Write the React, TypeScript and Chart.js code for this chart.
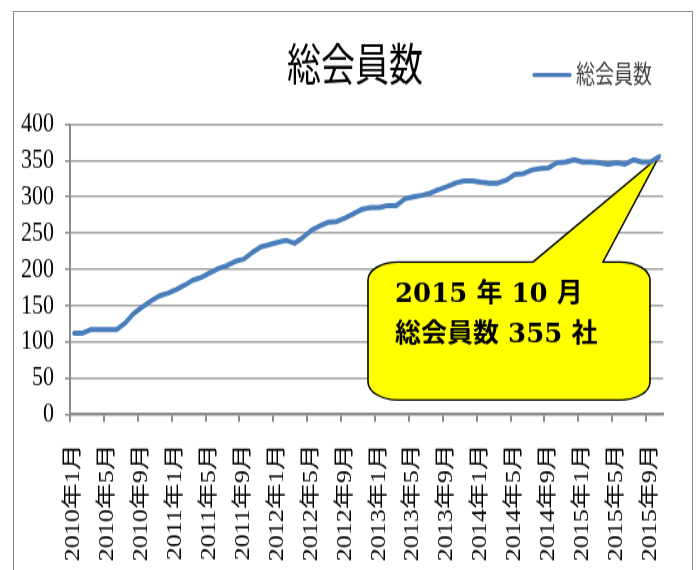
import React, { useEffect, useRef } from "react";
import { Chart, registerables } from "chart.js";

Chart.register(...registerables);

// ---------------- data ----------------
const categories = [
  "2010年1月", "2010年2月", "2010年3月", "2010年4月", "2010年5月", "2010年6月",
  "2010年7月", "2010年8月", "2010年9月", "2010年10月", "2010年11月", "2010年12月",
  "2011年1月", "2011年2月", "2011年3月", "2011年4月", "2011年5月", "2011年6月",
  "2011年7月", "2011年8月", "2011年9月", "2011年10月", "2011年11月", "2011年12月",
  "2012年1月", "2012年2月", "2012年3月", "2012年4月", "2012年5月", "2012年6月",
  "2012年7月", "2012年8月", "2012年9月", "2012年10月", "2012年11月", "2012年12月",
  "2013年1月", "2013年2月", "2013年3月", "2013年4月", "2013年5月", "2013年6月",
  "2013年7月", "2013年8月", "2013年9月", "2013年10月", "2013年11月", "2013年12月",
  "2014年1月", "2014年2月", "2014年3月", "2014年4月", "2014年5月", "2014年6月",
  "2014年7月", "2014年8月", "2014年9月", "2014年10月", "2014年11月", "2014年12月",
  "2015年1月", "2015年2月", "2015年3月", "2015年4月", "2015年5月", "2015年6月",
  "2015年7月", "2015年8月", "2015年9月", "2015年10月",
];

const memberCounts = [
  112, 112, 117, 117, 117, 117, 126, 139, 148, 156, 163, 167,
  172, 178, 185, 189, 195, 201, 205, 211, 214, 223, 231, 234,
  237, 240, 236, 244, 254, 260, 265, 266, 271, 277, 283, 285,
  285, 288, 288, 297, 300, 302, 305, 310, 314, 319, 322, 322,
  320, 319, 319, 323, 331, 332, 337, 339, 340, 347, 348, 351,
  348, 348, 347, 345, 347, 345, 351, 348, 348, 355,
];

const shownTickLabels = [
  "2010年1月", "2010年5月", "2010年9月",
  "2011年1月", "2011年5月", "2011年9月",
  "2012年1月", "2012年5月", "2012年9月",
  "2013年1月", "2013年5月", "2013年9月",
  "2014年1月", "2014年5月", "2014年9月",
  "2015年1月", "2015年5月", "2015年9月",
];

const yMin = 0;
const yMax = 400;
const yStep = 50;

const chartTitle = "総会員数";
const seriesLabel = "総会員数";
const calloutLines = ["2015 年 10 月", "総会員数 355 社"];

// ---------------- layout / style ----------------
const PAGE_W = 700;
const PAGE_H = 570;
const CANVAS_H = 438; // canvas is stretched vertically to PAGE_H
const SY = PAGE_H / CANVAS_H;

const LINE_COLOR = "#4a7ebb";
const GRID_COLOR = "#a3a3a3";
const AXIS_COLOR = "#8c8c8c";

const decorPlugin = {
  id: "decor",
  beforeDatasetsDraw(chart: any) {
    const ctx = chart.ctx as CanvasRenderingContext2D;
    const meta = chart.getDatasetMeta(0);
    const last = meta.data[meta.data.length - 1];
    const tipX = last.x;
    const tipY = last.y * SY;
    ctx.save();
    ctx.scale(1, 1 / SY); // draw in page (unstretched) units
    const x0 = 368, y0 = 262, x1 = 650, y1 = 400, rx = 30, ry = 18;
    const bx0 = 533, bx1 = 603;
    ctx.beginPath();
    ctx.moveTo(x0 + rx, y0);
    ctx.lineTo(bx0, y0);
    ctx.lineTo(tipX, tipY);
    ctx.lineTo(bx1, y0);
    ctx.lineTo(x1 - rx, y0);
    ctx.ellipse(x1 - rx, y0 + ry, rx, ry, 0, -Math.PI / 2, 0);
    ctx.lineTo(x1, y1 - ry);
    ctx.ellipse(x1 - rx, y1 - ry, rx, ry, 0, 0, Math.PI / 2);
    ctx.lineTo(x0 + rx, y1);
    ctx.ellipse(x0 + rx, y1 - ry, rx, ry, 0, Math.PI / 2, Math.PI);
    ctx.lineTo(x0, y0 + ry);
    ctx.ellipse(x0 + rx, y0 + ry, rx, ry, 0, Math.PI, Math.PI * 1.5);
    ctx.closePath();
    ctx.fillStyle = "#ffff00";
    ctx.fill();
    ctx.lineWidth = 1.6;
    ctx.strokeStyle = "#000";
    ctx.lineJoin = "miter";
    ctx.stroke();

    ctx.fillStyle = "#000";
    ctx.font = 'bold 26px "DejaVu Serif", "Noto Sans CJK JP", serif';
    ctx.textBaseline = "middle";
    ctx.textAlign = "left";
    ctx.fillText(calloutLines[0], 395, 295);
    ctx.fillText(calloutLines[1], 395, 335);
    ctx.restore();
  },
  afterDraw(chart: any) {
    const ctx = chart.ctx as CanvasRenderingContext2D;
    ctx.save();
    // title
    ctx.fillStyle = "#000";
    ctx.font = '34px "Noto Sans CJK JP", sans-serif';
    ctx.textAlign = "center";
    ctx.textBaseline = "middle";
    ctx.fillText(chartTitle, 355, 63.5 / SY);
    // legend
    const ds = chart.data.datasets[0];
    ctx.strokeStyle = ds.borderColor;
    ctx.lineWidth = 3.2;
    ctx.lineCap = "round";
    ctx.beginPath();
    ctx.moveTo(534, 75 / SY);
    ctx.lineTo(570, 75 / SY);
    ctx.stroke();
    ctx.fillStyle = "#404040";
    ctx.font = '19px "Noto Sans CJK JP", sans-serif';
    ctx.textAlign = "left";
    ctx.fillText(ds.label, 576, 74.5 / SY);
    ctx.restore();
  },
};

export default function App() {
  const canvasRef = useRef<HTMLCanvasElement | null>(null);

  useEffect(() => {
    const canvas = canvasRef.current;
    if (!canvas) return;
    const isShown = (i: number) => shownTickLabels.includes(categories[i]);
    const chart = new Chart(canvas, {
      type: "line",
      data: {
        labels: categories,
        datasets: [
          {
            label: seriesLabel,
            data: memberCounts,
            borderColor: LINE_COLOR,
            backgroundColor: LINE_COLOR,
            borderWidth: 4,
            pointRadius: 0,
            pointHoverRadius: 0,
            tension: 0,
            fill: false,
            borderCapStyle: "round",
            borderJoinStyle: "round",
          },
        ],
      },
      options: {
        responsive: false,
        maintainAspectRatio: false,
        animation: false,
        devicePixelRatio: 1,
        events: [],
        layout: {
          padding: { top: 124.3 / SY, right: 20, bottom: 0, left: 0 },
        },
        plugins: {
          legend: { display: false },
          title: { display: false },
          tooltip: { enabled: false },
        },
        scales: {
          x: {
            type: "category",
            offset: true,
            grid: {
              offset: true,
              drawOnChartArea: false,
              drawTicks: true,
              tickLength: 6,
              lineWidth: 2,
              tickWidth: 2,
              tickColor: (c: any) =>
                typeof c.index === "number" && c.index < categories.length && isShown(c.index)
                  ? AXIS_COLOR
                  : "rgba(0,0,0,0)",
              color: AXIS_COLOR,
            },
            border: { display: true, color: AXIS_COLOR, width: 2 },
            ticks: {
              autoSkip: false,
              maxRotation: 90,
              minRotation: 90,
              padding: 17,
              color: "#000",
              font: { family: '"Liberation Serif", "Noto Sans CJK JP", serif', size: 20 },
              callback: (_v: any, i: number) => (isShown(i) ? categories[i] : ""),
            },
            afterFit: (scale: any) => {
              scale.height = CANVAS_H - 414.3 / SY;
            },
          },
          y: {
            min: yMin,
            max: yMax,
            grid: {
              color: GRID_COLOR,
              lineWidth: 1.5,
              tickLength: 5,
              tickColor: AXIS_COLOR,
              tickWidth: 1.5,
            },
            border: { display: true, color: AXIS_COLOR, width: 2 },
            ticks: {
              stepSize: yStep,
              autoSkip: false,
              maxTicksLimit: 20,
              padding: 11,
              color: "#000",
              font: { family: '"Liberation Serif", serif', size: 22, lineHeight: 1 },
            },
            afterFit: (scale: any) => {
              scale.width = 70;
            },
          },
        },
      },
      plugins: [decorPlugin],
    } as any);
    return () => chart.destroy();
  }, []);

  return (
    <div
      style={{
        position: "fixed",
        left: 0,
        top: 0,
        width: PAGE_W,
        height: PAGE_H,
        overflow: "hidden",
        background: "#fff",
      }}
    >
      <div
        style={{
          position: "absolute",
          left: 13,
          top: 11,
          width: 680,
          height: 620,
          border: "1px solid #8a8a8a",
          boxSizing: "border-box",
        }}
      />
      <canvas
        ref={canvasRef}
        width={PAGE_W}
        height={CANVAS_H}
        style={{
          position: "absolute",
          left: 0,
          top: 0,
          width: PAGE_W,
          height: PAGE_H,
        }}
      />
    </div>
  );
}
